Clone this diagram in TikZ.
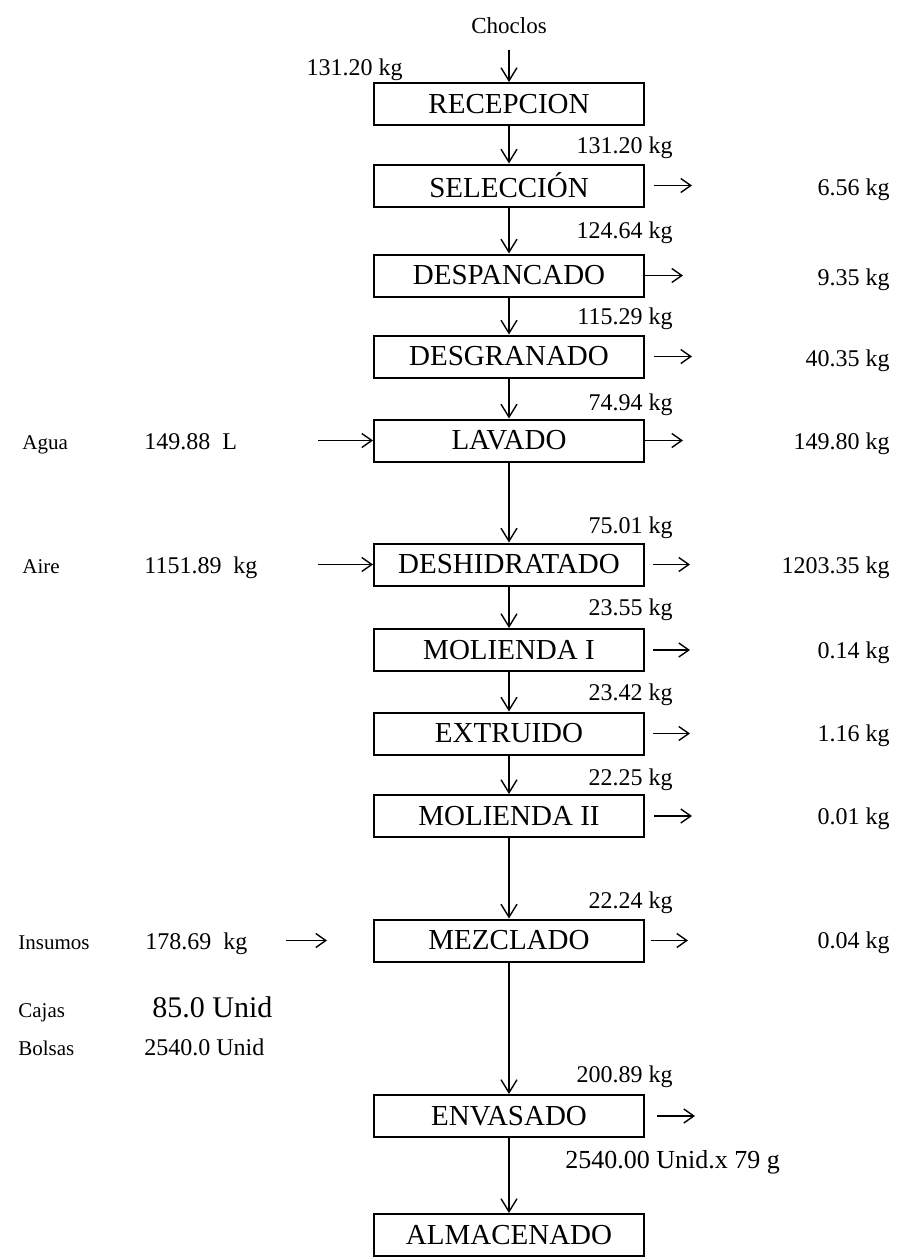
\documentclass[tikz,border=0pt]{standalone}
\usepackage{fontspec}
\setmainfont{Liberation Serif}
\usetikzlibrary{arrows.meta}

\begin{document}
\begin{tikzpicture}[x=0.5pt, y=-0.5pt,
    proc/.style={draw, line width=1pt, minimum width=135pt, minimum height=21pt, inner sep=0pt, font=\fontsize{14.5}{16}\selectfont},
    flow/.style={-{Straight Barb[length=6.5pt,width=8pt]}, line width=0.7pt},
    side/.style={-{Straight Barb[length=5pt,width=7pt]}, line width=0.7pt},
    qty/.style={inner sep=0pt, font=\fontsize{12}{14}\selectfont},
    tag/.style={inner sep=0pt, font=\fontsize{10.5}{12}\selectfont}]
    \useasboundingbox (0,0) rectangle (896,1259);

    % Process boxes
    \node[proc] (rec)  at (509,104)   {RECEPCION};
    \node[proc] (sel)  at (509,185.5) {SELECCIÓN};
    \node[proc] (desp) at (509,275.5) {DESPANCADO};
    \node[proc] (desg) at (509,356.5) {DESGRANADO};
    \node[proc] (lav)  at (509,440.5) {LAVADO};
    \node[proc] (desh) at (509,564.5) {DESHIDRATADO};
    \node[proc] (mol1) at (509,650)   {MOLIENDA I};
    \node[proc] (extr) at (509,733.5) {EXTRUIDO};
    \node[proc] (mol2) at (509,816)   {MOLIENDA II};
    \node[proc] (mezc) at (509,940.5) {MEZCLADO};
    \node[proc] (env)  at (509,1116)  {ENVASADO};
    \node[proc] (alm)  at (509,1235)  {ALMACENADO};

    % Main flow
    \node[inner sep=0pt, anchor=base, font=\fontsize{11.5}{13}\selectfont] (choc) at (509,33) {Choclos};
    \node[qty, anchor=base east] (m0) at (403,75) {131.20 kg};
    \draw[flow, shorten <=8pt] (choc.south) -- (rec.north);
    \draw[flow] (rec) -- (sel);
    \draw[flow] (sel) -- (desp);
    \draw[flow] (desp) -- (desg);
    \draw[flow] (desg) -- (lav);
    \draw[flow] (lav) -- (desh);
    \draw[flow] (desh) -- (mol1);
    \draw[flow] (mol1) -- (extr);
    \draw[flow] (extr) -- (mol2);
    \draw[flow] (mol2) -- (mezc);
    \draw[flow] (mezc) -- (env);
    \draw[flow] (env) -- (alm);

    % Flow masses
    \node[qty, anchor=base east] (m1)  at (673,153)  {131.20 kg};
    \node[qty, anchor=base east] (m2)  at (673,238)  {124.64 kg};
    \node[qty, anchor=base east] (m3)  at (673,324)  {115.29 kg};
    \node[qty, anchor=base east] (m4)  at (673,410)  {74.94 kg};
    \node[qty, anchor=base east] (m5)  at (673,533)  {75.01 kg};
    \node[qty, anchor=base east] (m6)  at (673,615)  {23.55 kg};
    \node[qty, anchor=base east] (m7)  at (673,700)  {23.42 kg};
    \node[qty, anchor=base east] (m8)  at (673,785)  {22.25 kg};
    \node[qty, anchor=base east] (m9)  at (673,908)  {22.24 kg};
    \node[qty, anchor=base east] (m10) at (673,1082) {200.89 kg};
    \node[inner sep=0pt, anchor=base west, font=\fontsize{13}{15}\selectfont] (unid) at (565,1168) {2540.00 Unid.x 79 g};

    % Outputs
    \coordinate (o1) at (692,185.5);
    \coordinate (o2) at (683,275.5);
    \coordinate (o3) at (692,356.5);
    \coordinate (o4) at (683,440.5);
    \coordinate (o5) at (690,564.5);
    \coordinate (o6) at (690,650);
    \coordinate (o7) at (690,733.5);
    \coordinate (o8) at (692,816);
    \coordinate (o9) at (688,940.5);
    \coordinate (o10) at (695,1116);
    \draw[side, shorten <=4.5pt] (sel.east) -- (o1);
    \draw[side] (desp.east) -- (o2);
    \draw[side, shorten <=4.5pt] (desg.east) -- (o3);
    \draw[side] (lav.east) -- (o4);
    \draw[side, shorten <=4pt] (desh.east) -- (o5);
    \draw[side, shorten <=4pt] (mol1.east) -- (o6);
    \draw[side, shorten <=4pt] (extr.east) -- (o7);
    \draw[side, shorten <=4.5pt] (mol2.east) -- (o8);
    \draw[side, shorten <=3pt] (mezc.east) -- (o9);
    \draw[side, shorten <=6pt] (env.east) -- (o10);
    \node[qty, anchor=base east] (r1) at (890,195)   {6.56 kg};
    \node[qty, anchor=base east] (r2) at (890,285)   {9.35 kg};
    \node[qty, anchor=base east] (r3) at (890,366)   {40.35 kg};
    \node[qty, anchor=base east] (r4) at (890,449)   {149.80 kg};
    \node[qty, anchor=base east] (r5) at (890,573)   {1203.35 kg};
    \node[qty, anchor=base east] (r6) at (890,658)   {0.14 kg};
    \node[qty, anchor=base east] (r7) at (890,741)   {1.16 kg};
    \node[qty, anchor=base east] (r8) at (890,824)   {0.01 kg};
    \node[qty, anchor=base east] (r9) at (890,948)   {0.04 kg};

    % Inputs
    \node[tag, anchor=base west] (agua) at (22,449) {Agua};
    \node[qty, anchor=base west] (aguaq) at (144,449) {149.88\ \ L};
    \coordinate (a0) at (318,440.5);
    \draw[side] (a0) -- (lav.west);
    \node[tag, anchor=base west] (aire) at (22,573) {Aire};
    \node[qty, anchor=base west] (aireq) at (144,573) {1151.89\ \ kg};
    \coordinate (b0) at (318,564.5);
    \draw[side] (b0) -- (desh.west);
    \node[tag, anchor=base west] (ins) at (18,949) {Insumos};
    \node[qty, anchor=base west] (insq) at (145,949) {178.69\ \ kg};
    \coordinate (i0) at (286,940.5);
    \coordinate (i1) at (327,940.5);
    \draw[side] (i0) -- (i1);
    \node[tag, anchor=base west] (cajas) at (18,1017) {Cajas};
    \node[inner sep=0pt, anchor=base west, font=\fontsize{15}{17}\selectfont] (cajasq) at (152,1017) {85.0 Unid};
    \node[tag, anchor=base west] (bolsas) at (18,1055) {Bolsas};
    \node[qty, anchor=base west] (bolsasq) at (144,1055) {2540.0 Unid};
\end{tikzpicture}
\end{document}
